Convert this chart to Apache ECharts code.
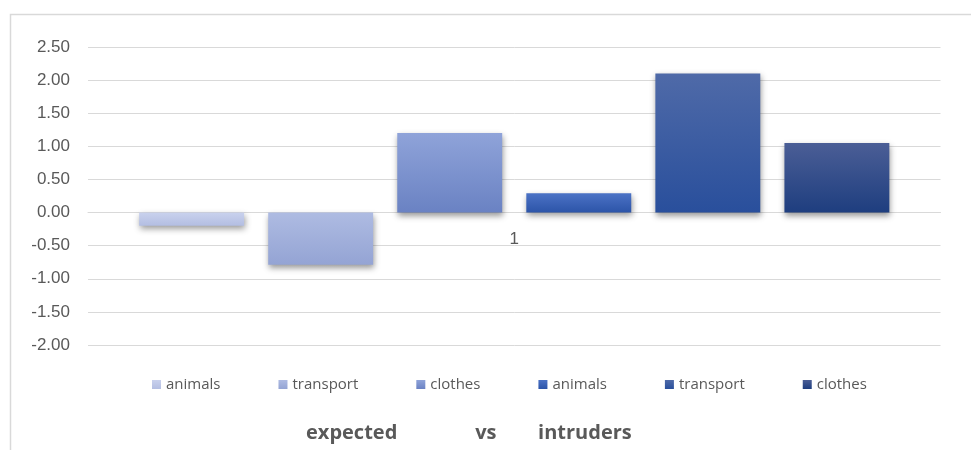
<!DOCTYPE html>
<html>
<head>
<meta charset="utf-8">
<script src="https://cdn.jsdelivr.net/npm/echarts@6/dist/echarts.min.js"></script>
<style>
html,body{margin:0;padding:0;background:#fff;}
#chart{width:971px;height:450px;}
</style>
</head>
<body>
<div id="chart"></div>
<script>
var categories = ['1'];
var topics = ['animals', 'transport', 'clothes'];
var expectedValues = [-0.2, -0.79, 1.2];
var intruderValues = [0.29, 2.1, 1.05];
var yTicks = { min: -2, max: 2.5, interval: 0.5 };
var titleWords = ['expected', 'vs', 'intruders'];

var gradients = [
  ['#c9d1ed', '#b3bee2'],
  ['#aebbe2', '#94a4d4'],
  ['#8fa3d9', '#6a82c3'],
  ['#4b72c5', '#2c54a8'],
  ['#4f6aa8', '#294f9c'],
  ['#4b5e96', '#1e3e7f']
];

var series = [];
var groups = [['expected', expectedValues], ['intruders', intruderValues]];
var k = 0;
groups.forEach(function (g) {
  topics.forEach(function (t, i) {
    var c = gradients[k++];
    series.push({
      name: t + '|' + g[0],
      type: 'bar',
      data: [g[1][i]],
      barGap: '23%',
      barCategoryGap: '12%',
      itemStyle: {
        color: new echarts.graphic.LinearGradient(0, 0, 0, 1, [
          { offset: 0, color: c[0] },
          { offset: 1, color: c[1] }
        ]),
        shadowColor: 'rgba(0,0,0,0.4)',
        shadowBlur: 6,
        shadowOffsetY: 3,
        shadowOffsetX: 1
      },
      emphasis: { disabled: true }
    });
  });
});

var gridTop = 47, gridBottom = 105, chartH = 450;
var plotH = chartH - gridTop - gridBottom;
var zeroOffset = plotH * (0 - yTicks.min) / (yTicks.max - yTicks.min);

var chart = echarts.init(document.getElementById('chart'), null, { renderer: 'canvas' });
chart.setOption({
  animation: false,
  backgroundColor: '#ffffff',
  title: {
    text: titleWords[0] + '               ' + titleWords[1] + '        ' + titleWords[2],
    left: 306,
    top: 423,
    padding: 0,
    textStyle: {
      fontFamily: 'Open Sans',
      fontWeight: 'bold',
      fontSize: 20,
      color: '#595959'
    }
  },
  legend: {
    left: 152,
    top: 377,
    padding: 0,
    itemWidth: 9,
    itemHeight: 9,
    itemGap: 58,
    icon: 'rect',
    selectedMode: false,
    formatter: function (name) { return name.split('|')[0]; },
    textStyle: { fontFamily: 'Open Sans', fontSize: 15, color: '#595959' },
    data: series.map(function (s) { return s.name; })
  },
  grid: { left: 88, right: 30.5, top: gridTop, bottom: gridBottom, containLabel: false },
  xAxis: {
    type: 'category',
    data: categories,
    position: 'bottom',
    offset: -zeroOffset,
    axisLine: { show: true, onZero: false, lineStyle: { color: '#d9d9d9', width: 1 } },
    axisTick: { show: false },
    axisLabel: { margin: 18, fontFamily: 'Liberation Sans', fontSize: 17, color: '#595959' },
    splitLine: { show: false }
  },
  yAxis: {
    type: 'value',
    min: yTicks.min,
    max: yTicks.max,
    interval: yTicks.interval,
    axisLine: { show: false },
    axisTick: { show: false },
    axisLabel: {
      margin: 18,
      fontFamily: 'Liberation Sans',
      fontSize: 17,
      color: '#595959',
      formatter: function (v) { return v.toFixed(2); }
    },
    splitLine: { lineStyle: { color: '#d9d9d9', width: 1 } }
  },
  graphic: [{
    type: 'rect',
    silent: true,
    z: -1,
    shape: { x: 10.5, y: 14.5, width: 1000, height: 500 },
    style: { fill: null, stroke: '#d9d9d9', lineWidth: 1.5 }
  }],
  series: series
});
</script>
</body>
</html>
